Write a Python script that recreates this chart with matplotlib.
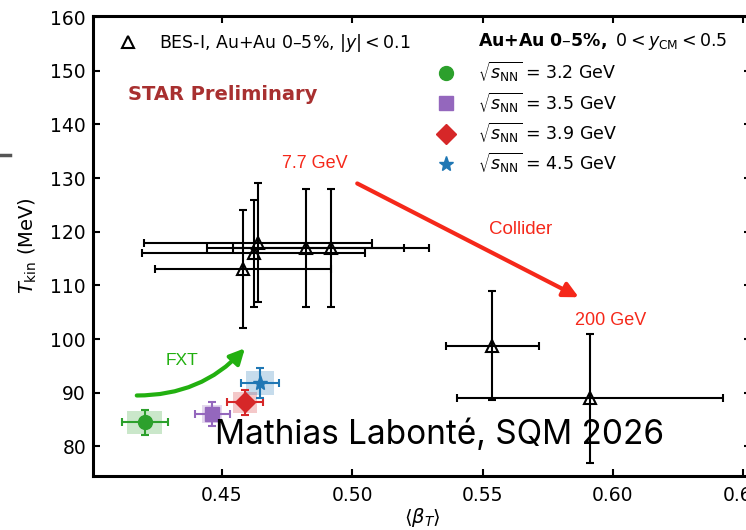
import matplotlib
matplotlib.use("Agg")
import matplotlib.pyplot as plt
from matplotlib.lines import Line2D

plt.rcParams['mathtext.fontset'] = 'dejavusans'

# BES-I collider points (Au+Au 0-5%, |y| < 0.1)
bes_beta = [0.4580, 0.4621, 0.4638, 0.4821, 0.4919, 0.5537, 0.5913]
bes_beta_err = [0.0339, 0.0429, 0.0438, 0.0379, 0.0377, 0.0178, 0.0510]
bes_T = [113.0, 116.0, 118.0, 117.0, 117.0, 98.8, 89.0]
bes_T_err = [11.0, 10.0, 11.0, 11.0, 11.0, 10.2, 12.0]

# FXT points (Au+Au 0-5%, 0 < y_CM < 0.5)
fxt_energy = ['3.2', '3.5', '3.9', '4.5']
fxt_beta = [0.4204, 0.4462, 0.4588, 0.4646]
fxt_T = [84.5, 86.0, 88.2, 91.8]
fxt_beta_stat = [0.0087, 0.0067, 0.0070, 0.0073]
fxt_T_stat = [2.3, 2.2, 2.4, 2.8]
fxt_beta_sys = [0.0067, 0.0038, 0.0045, 0.0054]
fxt_T_sys = [2.1, 1.7, 2.0, 2.3]
fxt_colors = ['#2ca02c', '#9467bd', '#d62728', '#1f77b4']
fxt_markers = ['o', 's', 'D', '*']
fxt_msize = [10, 9.5, 10, 11]

xticks = [0.45, 0.50, 0.55, 0.60, 0.65]
yticks = [80, 90, 100, 110, 120, 130, 140, 150, 160]

red = '#f5281a'
green = '#22b010'

fig = plt.figure(figsize=(7.46, 5.30), dpi=100)
ax = fig.add_axes([93/746, 54/530, 658/746, 460/530])

# BES-I
ax.errorbar(bes_beta, bes_T, xerr=bes_beta_err, yerr=bes_T_err, fmt='none',
            ecolor='black', elinewidth=1.5, capsize=3, capthick=1.5, zorder=3)
bes_h, = ax.plot(bes_beta, bes_T, '^', ms=8.5, mfc='none', mec='black', mew=1.5,
                 ls='none', zorder=4, label=r'BES-I, Au+Au 0–5%, $|y| < 0.1$')

# FXT
fxt_handles = []
for i in range(len(fxt_energy)):
    ax.bar(fxt_beta[i], 2*fxt_T_sys[i], width=2*fxt_beta_sys[i],
           bottom=fxt_T[i]-fxt_T_sys[i], color=fxt_colors[i], alpha=0.25,
           lw=0, zorder=2)
    ax.errorbar(fxt_beta[i], fxt_T[i], xerr=fxt_beta_stat[i], yerr=fxt_T_stat[i],
                fmt='none', ecolor=fxt_colors[i], elinewidth=1.5, capsize=3,
                capthick=1.5, zorder=3)
    h, = ax.plot(fxt_beta[i], fxt_T[i], fxt_markers[i], color=fxt_colors[i],
                 ms=fxt_msize[i], ls='none', zorder=4,
                 label=r'$\sqrt{s_{\rm NN}}$ = ' + fxt_energy[i] + ' GeV')
    fxt_handles.append(h)

ax.set_xlim(0.4005, 0.653)
ax.set_ylim(74.5, 160.2)
ax.set_xticks(xticks)
ax.set_yticks(yticks)
ax.tick_params(direction='in', length=5, width=1.5, labelsize=13.5,
               top=True, right=True)
ax.tick_params(axis='x', pad=7)
ax.tick_params(axis='y', pad=5)
for s in ax.spines.values():
    s.set_linewidth(2.2)

ax.set_xlabel(r'$\langle\beta_T\rangle$', fontsize=14, labelpad=1)
ax.set_ylabel(r'$T_{\rm kin}$ (MeV)', fontsize=14, labelpad=8)

# legends
leg1 = ax.legend(handles=[bes_h], loc='upper left', frameon=False,
                 fontsize=12.5, handlelength=1.0, handletextpad=1.3,
                 borderpad=0, borderaxespad=0,
                 bbox_to_anchor=((119-93)/658, 1-(32-16)/460))
ax.add_artist(leg1)
ax.legend(handles=fxt_handles, loc='upper left', frameon=False,
          fontsize=12.5, handlelength=1.0, handletextpad=1.35,
          labelspacing=0.36, borderpad=0, borderaxespad=0,
          bbox_to_anchor=((437-93)/658, 1-(60-16)/460))
ax.text((478-93)/658, 1-(42-16)/460,
        r'$\mathbf{Au{+}Au\ 0{\rm –}5\%,}$ $0 < y_{\rm CM} < 0.5$',
        transform=ax.transAxes, fontsize=12.5, va='center', ha='left')

# annotations
ax.text(0.4138, 145.6, 'STAR Preliminary', color='#a83030', fontsize=14,
        fontweight='bold', va='center', ha='left')
ax.text(0.4858, 132.7, '7.7 GeV', color=red, fontsize=13,
        family='Liberation Sans', ha='center', va='center')
ax.text(0.5646, 120.5, 'Collider', color=red, fontsize=13.5,
        family='Liberation Sans', ha='center', va='center')
ax.text(0.5992, 103.4, '200 GeV', color=red, fontsize=13,
        family='Liberation Sans', ha='center', va='center')
ax.text(0.4346, 96.0, 'FXT', color=green, fontsize=12.5,
        family='Liberation Sans', ha='center', va='center')

ax.annotate('', xy=(0.5869, 107.8), xytext=(0.5019, 129.0),
            arrowprops=dict(arrowstyle='-|>,head_length=0.9,head_width=0.45',
                            color=red, lw=3, shrinkA=0, shrinkB=0))
ax.annotate('', xy=(0.4588, 98.3), xytext=(0.4173, 89.5),
            arrowprops=dict(arrowstyle='-|>,head_length=0.9,head_width=0.45',
                            color=green, lw=3, shrinkA=0, shrinkB=0,
                            connectionstyle='arc3,rad=0.22'))

ax.text(0.4473, 80.4, 'Mathias Labonté, SQM 2026', fontsize=24,
        family='Inter', ha='left', va='baseline', zorder=6)

fig.add_artist(Line2D([0, 10/746], [1-155/530, 1-155/530], color='#555555', lw=2.5))

fig.savefig('out.png', dpi=100)
